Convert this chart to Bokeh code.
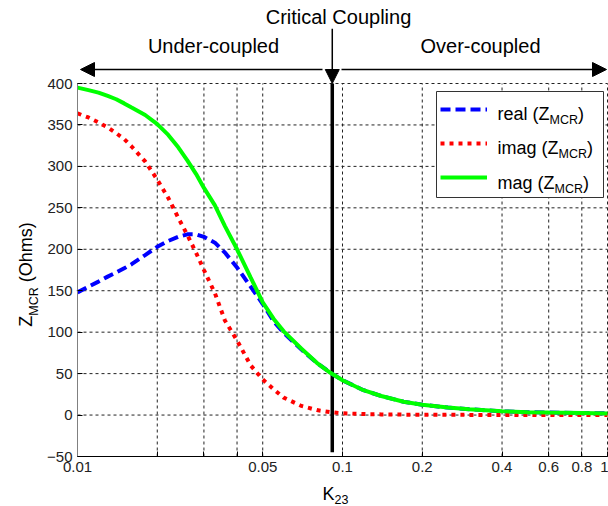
import math
from bokeh.plotting import figure
from bokeh.models import (FixedTicker, NumeralTickFormatter, Label, Arrow, NormalHead,
                          Legend, LegendItem, Range1d, BoxAnnotation)
from bokeh.embed import file_html
from bokeh.resources import INLINE

# ---------------- data ----------------
k = [0.01, 0.011, 0.012, 0.013, 0.014, 0.015, 0.016, 0.018, 0.02, 0.022,
     0.024, 0.026, 0.028, 0.03, 0.033, 0.036, 0.04, 0.045, 0.05, 0.055,
     0.06, 0.07, 0.08, 0.09, 0.1, 0.12, 0.14, 0.17, 0.2, 0.25,
     0.3, 0.4, 0.5, 0.6, 0.8, 1.0]
real_z = [148, 155, 161, 167, 172, 177, 182, 193, 203, 210,
          215, 218, 218, 215, 208, 196, 178, 155, 134, 113,
          99, 79, 63, 51, 42, 30, 23, 16, 12.5, 9,
          7, 4.5, 3.5, 3, 2.5, 2]
imag_z = [364, 359, 353, 347, 340, 333, 324, 306, 284, 262,
          238, 217, 196, 175, 147, 114, 90, 60, 43, 31,
          21, 11, 6, 3.5, 2.2, 1.2, 0.8, 0.5, 0.4, 0.3,
          0.2, 0.2, 0.1, 0.1, 0.1, 0.1]
mag_z = [395, 392, 389, 385, 381, 376, 371, 362, 351, 338,
         323, 307, 291, 274, 253, 228, 200, 166, 136, 116,
         101, 80, 63, 51, 42, 30, 23, 16, 12.5, 9,
         7, 4.5, 3.5, 3, 2.5, 2]
crit_k = 0.0915
crit_bottom = -45
crit_arrow_top = 466
x_major = [0.01, 0.05, 0.1, 0.2, 0.4, 0.6, 0.8, 1.0]
x_minor = [0.02, 0.03, 0.04]
y_ticks = [-50, 0, 50, 100, 150, 200, 250, 300, 350, 400]
x_lo, x_hi = 0.01, 1.0
y_lo, y_hi = -50, 400

FONT = "Liberation Sans"
AW = {'r': 333, 'e': 556, 'a': 556, 'l': 222, ' ': 278, '(': 333, ')': 333,
      'Z': 611, 'M': 833, 'C': 722, 'R': 722, 'i': 222, 'm': 833, 'g': 556,
      'K': 667, '2': 556, '3': 556, 'O': 778, 'h': 556, 's': 500, 'n': 556}


def tw(s, size):
    return sum(AW[c] for c in s) * size / 1000.0


# ---------------- layout: plot frame covers the whole canvas ----------------
W, H = 608, 506
FR_L, FR_R, FR_T, FR_B = 77, 607, 83, 456      # pixel box of the axes area
px_per_dec = (FR_R - FR_L) / (math.log10(x_hi) - math.log10(x_lo))
px_per_unit = (FR_B - FR_T) / (y_hi - y_lo)
xr = Range1d(10 ** (math.log10(x_lo) - FR_L / px_per_dec),
             10 ** (math.log10(x_hi) + (W - FR_R) / px_per_dec))
yr = Range1d(y_lo - (H - FR_B) / px_per_unit, y_hi + FR_T / px_per_unit)

p = figure(width=W, height=H, x_axis_type="log", x_range=xr, y_range=yr,
           output_backend="svg", toolbar_location=None,
           min_border_left=0, min_border_right=0, min_border_top=0, min_border_bottom=0)
p.outline_line_color = None
p.background_fill_color = "white"
p.xgrid.visible = False
p.ygrid.visible = False

xt = FixedTicker(ticks=x_major, minor_ticks=x_minor)
yt = FixedTicker(ticks=y_ticks)

xa = p.xaxis[0]
xa.fixed_location = y_lo
xa.bounds = (x_lo, x_hi)
xa.ticker = xt
xa.formatter = NumeralTickFormatter(format="0.[00]")
xa.axis_line_color = "black"
xa.major_tick_in = 5
xa.major_tick_out = 0
xa.minor_tick_in = 5
xa.minor_tick_out = 0
xa.major_label_text_font = FONT
xa.major_label_text_font_size = "15px"
xa.major_label_text_color = "#222222"
xa.major_label_standoff = 5

ya = p.yaxis[0]
ya.fixed_location = x_lo
ya.bounds = (y_lo, y_hi)
ya.ticker = yt
ya.axis_line_color = "#808080"
ya.major_tick_in = 5
ya.major_tick_out = 0
ya.minor_tick_line_color = None
ya.major_label_text_font = FONT
ya.major_label_text_font_size = "15px"
ya.major_label_text_color = "#222222"
ya.major_label_standoff = 5

# grid lines limited to the axes box (drawn from the tick lists)
vx = x_major + x_minor
p.segment(x0=vx, y0=[y_lo] * len(vx), x1=vx, y1=[y_hi] * len(vx),
          line_color="#222222", line_width=1, line_dash="3 3")
p.segment(x0=[x_lo] * len(y_ticks), y0=y_ticks, x1=[x_hi] * len(y_ticks), y1=y_ticks,
          line_color="#222222", line_width=1, line_dash="3 3")

# critical coupling marker (under the curves)
p.segment(x0=[crit_k], y0=[crit_bottom], x1=[crit_k], y1=[y_hi],
          line_color="black", line_width=3.5)

# ---------------- curves ----------------
r_real = p.line(k, real_z, line_color="#0000ff", line_width=4, line_dash="10 5")
r_imag = p.line(k, imag_z, line_color="#ff0000", line_width=4, line_dash="4 5")
r_mag = p.line(k, mag_z, line_color="#00ff00", line_width=4)

p.add_layout(Arrow(end=NormalHead(size=14, fill_color="black", line_color="black"),
                   x_start=crit_k, y_start=crit_arrow_top, x_end=crit_k, y_end=y_hi,
                   line_color="black", line_width=1.5))


def sx(px):
    return px


def sy(py):
    return H - py


ARROW_Y = 69
p.add_layout(Arrow(end=NormalHead(size=14, fill_color="black", line_color="black"),
                   x_start=sx(322), y_start=sy(ARROW_Y), x_end=sx(80), y_end=sy(ARROW_Y),
                   start_units="screen", end_units="screen",
                   line_color="black", line_width=1.5))
p.add_layout(Arrow(end=NormalHead(size=14, fill_color="black", line_color="black"),
                   x_start=sx(341), y_start=sy(ARROW_Y), x_end=sx(606), y_end=sy(ARROW_Y),
                   start_units="screen", end_units="screen",
                   line_color="black", line_width=1.5))


def lab(text, px, py, size, align="left", baseline="alphabetic", angle=0.0):
    p.add_layout(Label(x=sx(px), y=sy(py), x_units="screen", y_units="screen",
                       text=text, text_font=FONT, text_font_size=f"{size}px",
                       text_color="black", text_align=align, text_baseline=baseline,
                       angle=angle))


lab("Critical Coupling", 338, 16, 20, align="center", baseline="middle")
lab("Under-coupled", 213, 45, 20, align="center", baseline="middle")
lab("Over-coupled", 480, 45, 20, align="center", baseline="middle")

# ---------------- legend ----------------
LEG_L, LEG_R, LEG_T, LEG_B = 436, 603, 91, 197
p.add_layout(BoxAnnotation(left=sx(LEG_L), right=sx(LEG_R), top=sy(LEG_T), bottom=sy(LEG_B),
                           left_units="screen", right_units="screen",
                           top_units="screen", bottom_units="screen",
                           fill_color="white", fill_alpha=1.0,
                           line_color="#333333", line_width=1, line_alpha=1.0))

item_y = [107, 141, 176]
MAIN, SUB = 18, 12.5
for word, cy in zip(["real", "imag", "mag"], item_y):
    base = cy + 6
    x0 = 497
    t1 = word + " (Z"
    lab(t1, x0, base, MAIN)
    x1 = x0 + tw(t1, MAIN)
    lab("MCR", x1, base + 6, SUB)
    x2 = x1 + tw("MCR", SUB)
    lab(")", x2, base, MAIN)

legend = Legend(items=[LegendItem(label=" ", renderers=[r_real]),
                       LegendItem(label=" ", renderers=[r_imag]),
                       LegendItem(label=" ", renderers=[r_mag])],
                location=(sx(LEG_L + 4), sy(188)),
                padding=7, spacing=12, glyph_width=47, glyph_height=22,
                label_width=90, label_standoff=5, margin=0,
                border_line_color=None, background_fill_alpha=0.0,
                label_text_font_size="10px")
p.add_layout(legend, "center")

# ---------------- axis labels ----------------
lab("K", 322, 493, MAIN)
lab("23", 322 + tw("K", MAIN), 499, SUB)

ylen = tw("Z", MAIN) + tw("MCR", SUB) + tw(" (Ohms)", MAIN)
ystart = 274 + ylen / 2
lab("Z", 25, ystart, MAIN, angle=math.pi / 2)
lab("MCR", 33, ystart - tw("Z", MAIN), SUB, angle=math.pi / 2)
lab("(Ohms)", 25, ystart - tw("Z", MAIN) - tw("MCR", SUB) - tw(" ", MAIN), MAIN,
    angle=math.pi / 2)

open("out.html", "w").write(file_html(p, INLINE))
